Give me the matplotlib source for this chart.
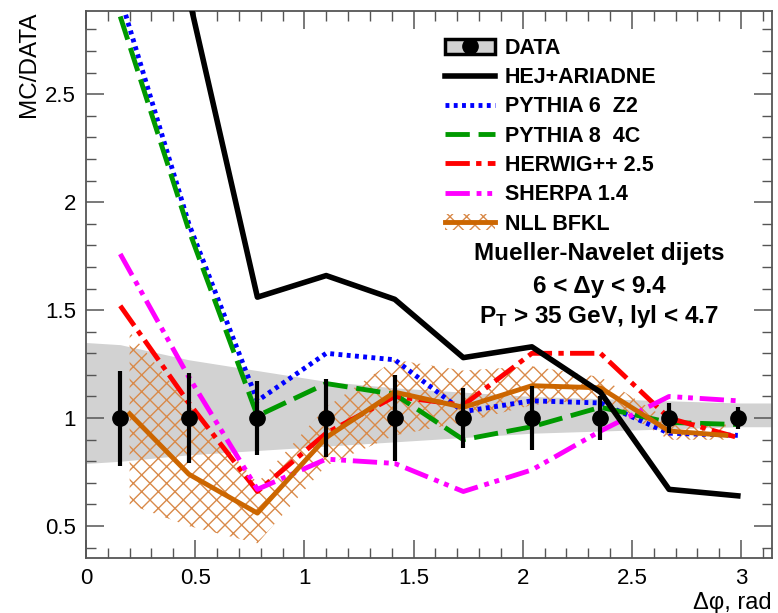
import numpy as np
import matplotlib
matplotlib.use('Agg')
import matplotlib.pyplot as plt
from matplotlib.lines import Line2D
from matplotlib.patches import Patch
from matplotlib.ticker import MultipleLocator

plt.rcParams['font.family'] = ['Liberation Sans', 'DejaVu Sans']
plt.rcParams['mathtext.fontset'] = 'custom'
plt.rcParams['mathtext.rm'] = 'Liberation Sans'
plt.rcParams['mathtext.bf'] = 'Liberation Sans:bold'
plt.rcParams['hatch.linewidth'] = 1.0

# bin centres of the delta-phi distribution (10 bins over 0..pi)
dphi = [0.157, 0.471, 0.785, 1.100, 1.414, 1.728, 2.042, 2.356, 2.670, 2.985]

# data: ratio is 1 by construction, with stat. errors
data_val = [1, 1, 1, 1, 1, 1, 1, 1, 1, 1]
data_err = [0.22, 0.21, 0.17, 0.18, 0.20, 0.14, 0.15, 0.10, 0.07, 0.05]

# systematic band of the data
syst_up = [1.34, 1.27, 1.22, 1.17, 1.14, 1.12, 1.10, 1.09, 1.08, 1.07]
syst_dn = [0.80, 0.83, 0.85, 0.87, 0.89, 0.91, 0.93, 0.94, 0.95, 0.96]

# MC / DATA ratios
hej = [4.50, 2.95, 1.56, 1.66, 1.55, 1.28, 1.33, 1.12, 0.67, 0.64]
py6 = [2.95, 1.90, 1.08, 1.30, 1.27, 1.03, 1.08, 1.07, 0.93, 0.92]
py8 = [2.86, 1.87, 1.01, 1.16, 1.11, 0.90, 0.96, 1.05, 0.98, 0.97]
herwig = [1.52, 1.07, 0.66, 0.93, 1.10, 1.06, 1.30, 1.30, 1.00, 0.91]
sherpa = [1.76, 1.19, 0.67, 0.81, 0.79, 0.66, 0.76, 0.94, 1.10, 1.08]

# NLL BFKL calculation with its uncertainty
bfkl_x = [0.20, 0.471, 0.785, 1.100, 1.414, 1.728, 2.042, 2.356, 2.670, 2.930]
bfkl = [1.02, 0.74, 0.56, 0.91, 1.12, 1.05, 1.15, 1.14, 0.94, 0.92]
bfkl_up = [1.40, 1.06, 0.70, 1.05, 1.27, 1.22, 1.24, 1.19, 0.99, 0.97]
bfkl_dn = [0.60, 0.50, 0.42, 0.78, 0.92, 0.98, 1.06, 1.09, 0.90, 0.90]

orange = '#cc6600'
hatch_c = '#d98a4a'

fig = plt.figure(figsize=(7.78, 6.13), dpi=100)
ax = fig.add_axes([0.1105, 0.0897, 0.8818, 0.8923])

# data systematic band, stretched to the edges of the range
xb = np.r_[0, dphi, np.pi]
ub = np.r_[syst_up[0] + 0.01, syst_up, syst_up[-1]]
lb = np.r_[syst_dn[0] - 0.01, syst_dn, syst_dn[-1]]
ax.fill_between(xb, lb, ub, color='#d2d2d2', lw=0, zorder=1)

# BFKL hatched band
ax.fill_between(bfkl_x, bfkl_dn, bfkl_up, facecolor='none', edgecolor=hatch_c,
                hatch='xx', lw=0, zorder=2)

lw = 3.5
ax.plot(dphi, py6, color='#0000ff', lw=lw, dashes=(0.8, 0.9), zorder=3)
ax.plot(dphi, py8, color='#009900', lw=lw, dashes=(5, 1.8), zorder=3)
ax.plot(dphi, herwig, color='#ff0000', lw=lw, dashes=(5, 1.3, 1.1, 1.3), zorder=3)
ax.plot(dphi, sherpa, color='#ff00ff', lw=lw, dashes=(5, 1.4, 1, 1.2, 1, 1.4), zorder=3)
ax.plot(bfkl_x, bfkl, color=orange, lw=lw, zorder=3)

ax.errorbar(dphi, data_val, yerr=data_err, fmt='o', color='black', ms=11,
            elinewidth=3, capsize=0, zorder=5)
ax.plot(dphi, hej, color='black', lw=4, zorder=6)

ax.set_xlim(0, np.pi)
ax.set_ylim(0.352, 2.885)
ax.xaxis.set_minor_locator(MultipleLocator(0.1))
ax.yaxis.set_minor_locator(MultipleLocator(0.1))
ax.set_xticks([0, 0.5, 1, 1.5, 2, 2.5, 3])
ax.set_xticklabels(['0', '0.5', '1', '1.5', '2', '2.5', '3'])
ax.set_yticks([0.5, 1, 1.5, 2, 2.5])
ax.set_yticklabels(['0.5', '1', '1.5', '2', '2.5'])
ax.tick_params(which='both', direction='in', top=True, right=True,
               color='#555555', labelsize=16)
ax.tick_params(which='major', length=13, width=1.1, pad=7)
ax.tick_params(which='minor', length=7, width=1.0)
for s in ax.spines.values():
    s.set_color('#555555')
    s.set_linewidth(1.3)

ax.set_ylabel('MC/DATA', fontsize=17.5, loc='top', labelpad=4)
ax.set_xlabel('Δφ, rad', fontsize=17, loc='right', labelpad=2)

handles = [
    (Patch(facecolor='#d2d2d2', edgecolor='black', lw=2.5),
     Line2D([], [], marker='o', color='black', ls='none', ms=11)),
    Line2D([], [], color='black', lw=4),
    Line2D([], [], color='#0000ff', lw=lw, dashes=(0.8, 0.9)),
    Line2D([], [], color='#009900', lw=lw, dashes=(5, 1.8)),
    Line2D([], [], color='#ff0000', lw=lw, dashes=(5, 1.3, 1.1, 1.3)),
    Line2D([], [], color='#ff00ff', lw=lw, dashes=(5, 1.4, 1, 1.2, 1, 1.4)),
    (Patch(facecolor='none', edgecolor=hatch_c, hatch='xx', lw=0),
     Line2D([], [], color=orange, lw=lw)),
]
labels = ['DATA', 'HEJ+ARIADNE', 'PYTHIA 6  Z2', 'PYTHIA 8  4C',
          'HERWIG++ 2.5', 'SHERPA 1.4', 'NLL BFKL']
ax.legend(handles, labels, loc='upper left', bbox_to_anchor=(0.524, 0.951),
          frameon=False, borderpad=0, borderaxespad=0, handlelength=2.3,
          handletextpad=0.45, labelspacing=0.385,
          prop={'size': 15.5, 'weight': 'bold'})

ax.text(0.748, 0.5448, 'Mueller-Navelet dijets', transform=ax.transAxes,
        ha='center', va='baseline', fontsize=17.5, fontweight='bold')
ax.text(0.748, 0.4845, '6 < Δy < 9.4', transform=ax.transAxes,
        ha='center', va='baseline', fontsize=17.5, fontweight='bold')
ax.text(0.748, 0.4296, r'$\mathbf{P_T}$ > 35 GeV, lyl < 4.7', transform=ax.transAxes,
        ha='center', va='baseline', fontsize=17.5, fontweight='bold')

fig.savefig('out.png', dpi=100)
